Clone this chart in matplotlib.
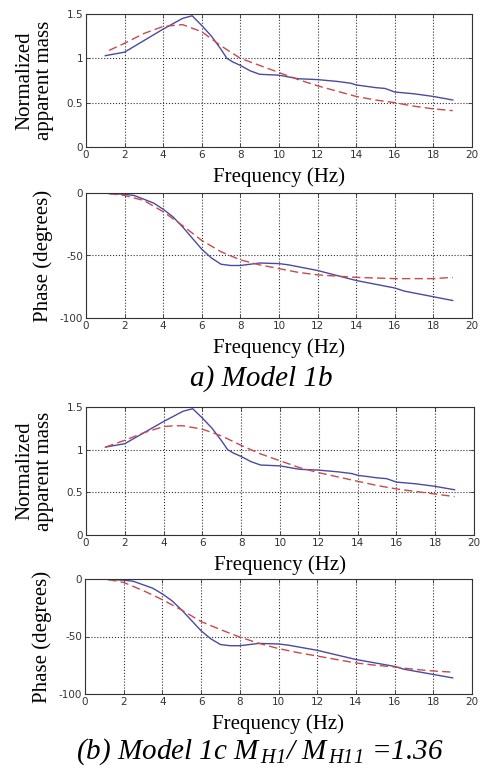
import matplotlib
matplotlib.use("Agg")
import matplotlib.pyplot as plt

plt.rcParams['mathtext.fontset'] = 'custom'
plt.rcParams['mathtext.it'] = 'Liberation Serif:italic'
plt.rcParams['mathtext.rm'] = 'Liberation Serif:italic'

# ---- data ----
freq_ticks = [0, 2, 4, 6, 8, 10, 12, 14, 16, 18, 20]

# Model 1b apparent mass
mass_meas_x = [1, 2, 3, 4, 5, 5.5, 6, 6.5, 7, 7.3, 7.6, 8, 8.5, 9, 10, 11, 12, 13, 13.7, 14, 15, 15.5, 16, 17, 18, 19]
mass_meas_y = [1.03, 1.07, 1.2, 1.33, 1.45, 1.48, 1.37, 1.25, 1.1, 1.0, 0.96, 0.92, 0.86, 0.82, 0.81, 0.77, 0.76, 0.74, 0.72, 0.7, 0.67, 0.66, 0.62, 0.6, 0.57, 0.53]
mass_1b_x = [1.2, 2, 3, 4, 5, 6, 7, 8, 9, 10, 11, 12, 13, 14, 15, 16, 17, 18, 19]
mass_1b_y = [1.09, 1.17, 1.28, 1.36, 1.38, 1.30, 1.14, 1.0, 0.92, 0.84, 0.76, 0.69, 0.63, 0.57, 0.53, 0.50, 0.46, 0.43, 0.41]

# phase measured
phase_meas_x = [1.2, 2, 2.5, 3, 3.5, 4, 4.5, 5, 5.5, 6, 6.5, 7, 7.5, 8, 9, 10, 10.5, 11, 12, 13, 14, 15, 16, 16.5, 17, 18, 19]
phase_meas_y = [-0.5, -1, -2, -5, -8, -13, -19, -27, -36, -45, -52, -57, -58, -58, -56, -56.5, -57.5, -59, -62, -66, -70, -73, -76, -78.5, -80, -83, -86]
phase_1b_x = [1.2, 2, 3, 4, 5, 6, 7, 8, 9, 10, 11, 12, 13, 14, 15, 16, 17, 18, 19]
phase_1b_y = [-0.5, -2, -6, -15, -26, -38, -47, -53.5, -57.5, -60.5, -63.5, -65.5, -66.5, -67.5, -68, -68.5, -68.5, -68.5, -67.5]

# Model 1c
mass_1c_x = [1, 2, 3, 4, 4.5, 5, 6, 7, 8, 9, 10, 11, 12, 13, 14, 15, 16, 17, 18, 19]
mass_1c_y = [1.03, 1.11, 1.2, 1.27, 1.28, 1.28, 1.24, 1.16, 1.05, 0.95, 0.87, 0.79, 0.73, 0.68, 0.63, 0.58, 0.54, 0.51, 0.48, 0.45]
phase_1c_x = [1.2, 2, 3, 4, 5, 6, 7, 8, 9, 10, 11, 12, 13, 14, 15, 16, 17, 18, 19]
phase_1c_y = [-0.5, -3, -10, -18, -27, -37, -44, -50.5, -56, -60.5, -64, -67, -70, -73, -75, -76.5, -78.5, -80, -81]

blue = '#4a4aa0'
red = '#c84a4a'
serif = 'Liberation Serif'

fig = plt.figure(figsize=(4.8, 7.73), dpi=100)

def make_ax(left, top, right, bottom, ylim, yticks, yticklabels):
    W, H = 480.0, 773.0
    ax = fig.add_axes([left / W, 1 - bottom / H, (right - left) / W, (bottom - top) / H])
    ax.set_xlim(0, 20)
    ax.set_ylim(*ylim)
    ax.set_xticks(freq_ticks)
    ax.set_xticklabels([str(t) for t in freq_ticks])
    ax.set_yticks(yticks)
    ax.set_yticklabels(yticklabels)
    ax.tick_params(direction='in', length=3, width=0.6, labelsize=7.5, colors='#333333', pad=2,
                   top=True, right=True)
    for lab in ax.get_xticklabels() + ax.get_yticklabels():
        lab.set_family('DejaVu Sans')
    ax.grid(True, linestyle=':', color='#333333', linewidth=0.8)
    for s in ax.spines.values():
        s.set_color('#333333')
        s.set_linewidth(0.8)
    return ax

mass_ticks = [0, 0.5, 1, 1.5]
mass_labels = ['0', '0.5', '1', '1.5']
ph_ticks = [-100, -50, 0]
ph_labels = ['-100', '-50', '0']

def mass_labels_set(ax):
    ax.set_xlabel('Frequency (Hz)', family=serif, fontsize=15, labelpad=5.5)
    ax.set_ylabel('Normalized\napparent mass', family=serif, fontsize=15, linespacing=1.05, labelpad=9)

def phase_labels_set(ax):
    ax.set_xlabel('Frequency (Hz)', family=serif, fontsize=15, labelpad=5.5)
    ax.set_ylabel('Phase (degrees)', family=serif, fontsize=15, labelpad=5)

# Panel 1
ax1 = make_ax(86, 14, 472, 147, (0, 1.5), mass_ticks, mass_labels)
ax1.plot(mass_meas_x, mass_meas_y, color=blue, lw=1.0)
ax1.plot(mass_1b_x, mass_1b_y, color=red, lw=1.0, ls=(0, (6, 3)))
mass_labels_set(ax1)

# Panel 2
ax2 = make_ax(86, 193, 472, 318, (-100, 0), ph_ticks, ph_labels)
ax2.plot(phase_meas_x, phase_meas_y, color=blue, lw=1.0)
ax2.plot(phase_1b_x, phase_1b_y, color=red, lw=1.0, ls=(0, (6, 3)))
phase_labels_set(ax2)

fig.text(261 / 480.0, 1 - 379 / 773.0, 'a) Model 1b', family=serif, style='italic', fontsize=21,
         ha='center', va='center')

# Panel 3
ax3 = make_ax(86, 407, 474, 535, (0, 1.5), mass_ticks, mass_labels)
ax3.plot(mass_meas_x, mass_meas_y, color=blue, lw=1.0)
ax3.plot(mass_1c_x, mass_1c_y, color=red, lw=1.0, ls=(0, (6, 3)))
mass_labels_set(ax3)

# Panel 4
ax4 = make_ax(85, 579, 472, 694, (-100, 0), ph_ticks, ph_labels)
ax4.plot(phase_meas_x, phase_meas_y, color=blue, lw=1.0)
ax4.plot(phase_1c_x, phase_1c_y, color=red, lw=1.0, ls=(0, (6, 3)))
phase_labels_set(ax4)

fig.text(260 / 480.0, 1 - 752 / 773.0, r'(b) Model 1c $M_{\,H1}$/ $M_{\,H11}$ =1.36', family=serif,
         style='italic', fontsize=21, ha='center', va='center')

fig.savefig('out.png', dpi=100)
